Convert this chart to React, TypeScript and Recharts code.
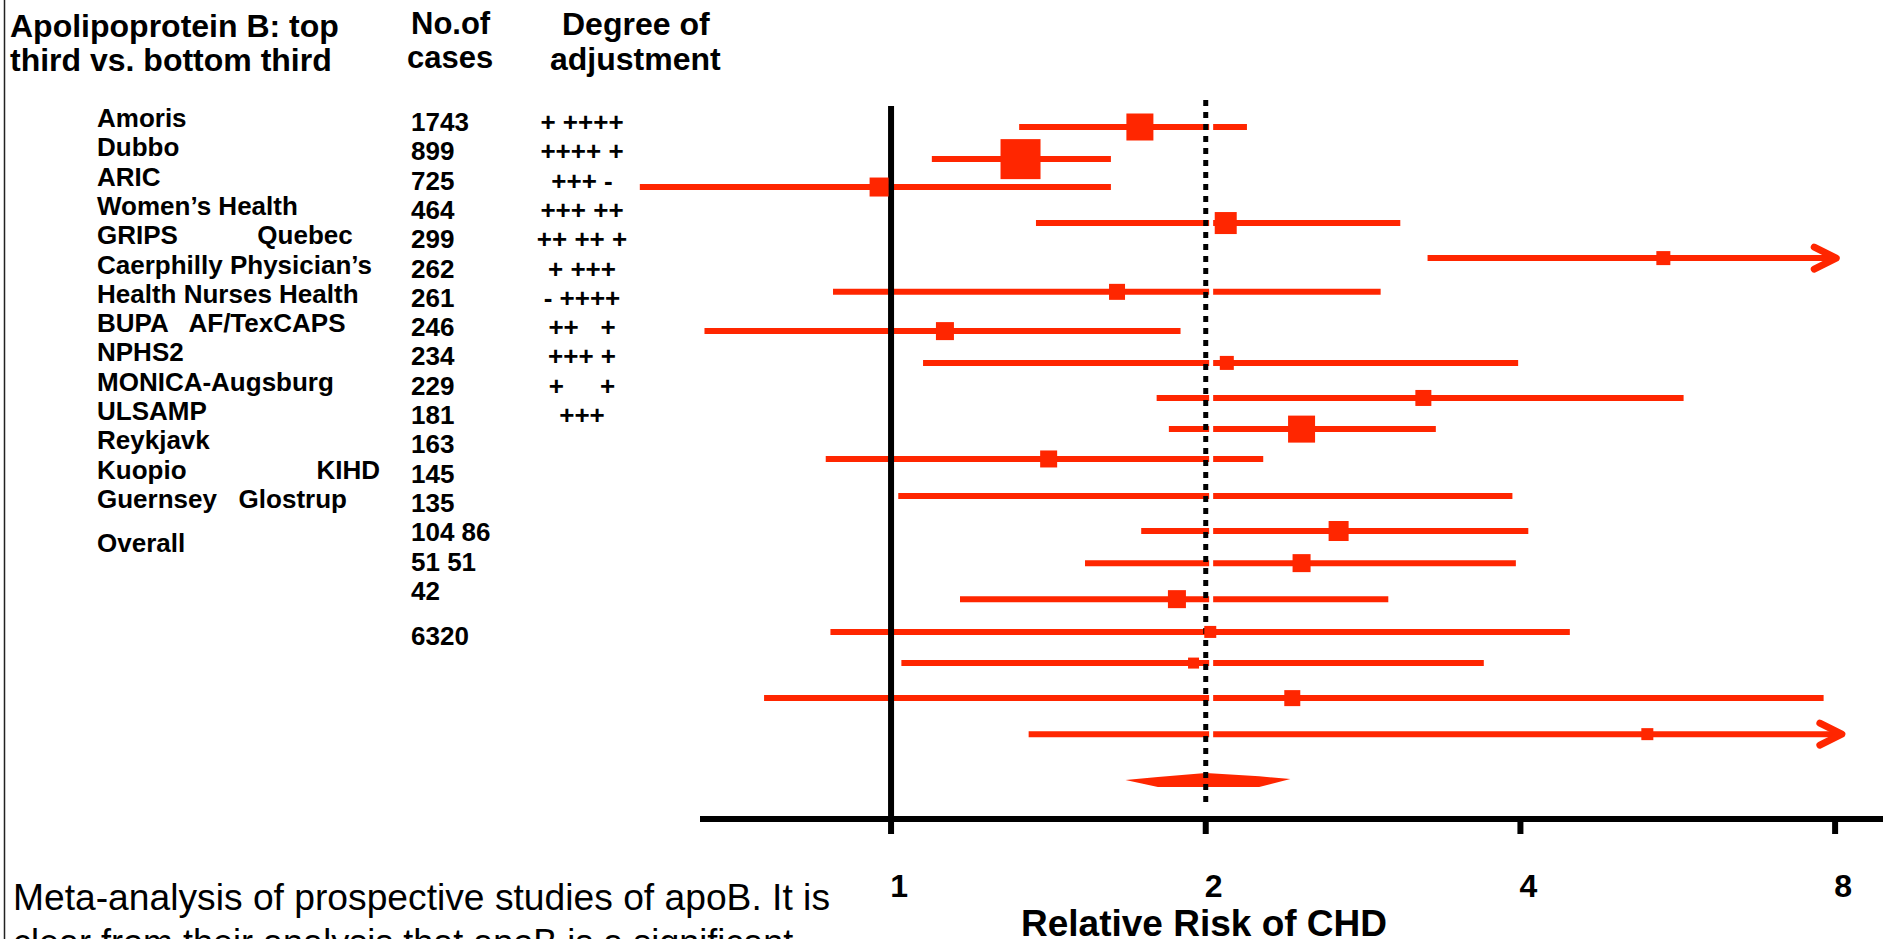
import React from 'react';
import { ComposedChart, XAxis, YAxis, Scatter, Area, ReferenceLine } from 'recharts';

const RED = '#ff2600';
const FONT = "'Liberation Sans', Arial, Helvetica, sans-serif";

// Left-hand table
const titleLines = ['Apolipoprotein B: top', 'third vs. bottom third'];
const casesHeader = ['No.of', 'cases'];
const adjustHeader = ['Degree of', 'adjustment'];
const studyNames = [
  'Amoris',
  'Dubbo',
  'ARIC',
  'Women\u2019s Health',
  'GRIPS           Quebec',
  'Caerphilly Physician\u2019s',
  'Health Nurses Health',
  'BUPA   AF/TexCAPS',
  'NPHS2',
  'MONICA-Augsburg',
  'ULSAMP',
  'Reykjavk',
  'Kuopio                  KIHD',
  'Guernsey   Glostrup',
];
const overallLabel = 'Overall';
const caseCounts = ['1743', '899', '725', '464', '299', '262', '261', '246', '234', '229', '181', '163', '145', '135', '104 86', '51 51', '42'];
const totalCases = '6320';
const adjustment = ['+ ++++', '++++ +', '+++ -', '+++ ++', '++ ++ +', '+ +++', '- ++++', '++   +', '+++ +', '+     +', '+++'];

// Forest plot rows (row position in row units, relative risks)
const rowPos = [1, 1.99, 2.85, 3.96, 5.04, 6.08, 7.29, 8.27, 9.35, 10.31, 11.23, 12.37, 13.45, 14.44, 15.55, 16.56, 17.52, 18.6, 19.71];
const estimate = [1.73, 1.33, 0.974, 2.09, 5.48, 1.645, 1.126, 2.095, 3.23, 2.47, 1.415, null, 2.68, 2.47, 1.877, 2.02, 1.947, 2.42, 5.29];
const lower = [1.326, 1.094, 0.575, 1.376, 3.26, 0.88, 0.663, 1.073, 1.795, 1.844, 0.866, 1.016, 1.735, 1.533, 1.164, 0.875, 1.023, 0.756, 1.354];
const upper = [2.19, 1.623, 1.623, 3.07, 8.02, 2.94, 1.892, 3.98, 5.73, 3.32, 2.27, 3.93, 4.07, 3.96, 2.99, 4.46, 3.69, 7.8, 8.12];
const weight = [27, 40, 19, 22, 14, 16, 18, 14, 16, 27, 17, 0, 20, 18, 18, 12, 11, 16, 12];
const openEnded = [false, false, false, false, true, false, false, false, false, false, false, false, false, false, false, false, false, false, true];

// Pooled estimate diamond
const diamondX = [1.676, 1.8, 2.0, 2.25, 2.41];
const diamondTop = [21.123, 21.031, 20.908, 21.009, 21.092];
const diamondBottom = [21.123, 21.339, 21.339, 21.339, 21.092];

const xTicks = [1, 2, 4, 8];
const xTitle = 'Relative Risk of CHD';
const footLines = ['Meta-analysis of prospective studies of apoB. It is', 'clear from their analysis that apoB is a significant'];

const X_DOMAIN = [0.6565, 8.89];
const Y_DOMAIN = [0.168, 22.325];

const diamondData = diamondX.map((x, i) => ({ x, range: [diamondTop[i], diamondBottom[i]] }));
const boxData = rowPos
  .map((y, i) => ({ x: estimate[i], y, size: weight[i] }))
  .filter((d) => d.x !== null && d.size > 0);
const arrowData = rowPos.map((y, i) => ({ x: upper[i], y })).filter((_, i) => openEnded[i]);

const Box = (props: any) => {
  const { cx, cy, payload } = props;
  const s = payload.size;
  return <rect x={cx - s / 2} y={cy - s / 2} width={s} height={s} fill={RED} />;
};

const ArrowHead = (props: any) => {
  const { cx, cy } = props;
  return (
    <polyline
      points={`${cx - 22},${cy - 11} ${cx},${cy} ${cx - 22},${cy + 11}`}
      fill="none"
      stroke={RED}
      strokeWidth={7}
      strokeLinecap="round"
      strokeLinejoin="round"
    />
  );
};

const Tick = (props: any) => {
  const { x, payload } = props;
  return (
    <text x={x + 8} y={897} textAnchor="middle" fontSize={32} fontWeight="bold" fontFamily={FONT} fill="#000">
      {payload.value}
    </text>
  );
};

const bold = { fontFamily: FONT, fontWeight: 'bold' as const, fill: '#000' };

export default function App() {
  return (
    <div style={{ position: 'absolute', left: 0, top: 0, width: 1887, height: 939, background: '#fff', overflow: 'hidden' }}>
      <ComposedChart width={1887} height={939} data={diamondData} margin={{ top: 100, right: 4, bottom: 0, left: 700 }}>
        <XAxis
          dataKey="x"
          type="number"
          scale="log"
          domain={X_DOMAIN}
          allowDataOverflow
          ticks={xTicks}
          interval={0}
          axisLine={{ stroke: '#000', strokeWidth: 6 }}
          tickLine={{ stroke: '#000', strokeWidth: 6 }}
          tickSize={15}
          height={120}
          tick={<Tick />}
        />
        <YAxis dataKey="y" type="number" domain={Y_DOMAIN} reversed allowDataOverflow hide width={0} />
        {rowPos.map((r, i) => (
          <ReferenceLine
            key={'ci' + i}
            segment={[{ x: lower[i], y: r }, { x: upper[i], y: r }]}
            stroke={RED}
            strokeWidth={6}
            ifOverflow="visible"
          />
        ))}
        <ReferenceLine
          segment={[{ x: 2.024, y: 0.5 }, { x: 2.024, y: 20.3 }]}
          stroke="#fff"
          strokeWidth={4}
          ifOverflow="visible"
        />
        <Area
          dataKey="range"
          type="linear"
          stroke="none"
          fill={RED}
          fillOpacity={1}
          dot={false}
          activeDot={false}
          isAnimationActive={false}
        />
        <Scatter data={boxData} dataKey="y" shape={<Box />} isAnimationActive={false} />
        <Scatter data={arrowData} dataKey="y" shape={<ArrowHead />} isAnimationActive={false} />
        <ReferenceLine
          segment={[{ x: 1, y: 0.353 }, { x: 1, y: Y_DOMAIN[1] }]}
          stroke="#000"
          strokeWidth={6}
          ifOverflow="visible"
        />
        <ReferenceLine
          segment={[{ x: 2, y: Y_DOMAIN[0] }, { x: 2, y: 21.955 }]}
          stroke="#000"
          strokeWidth={5}
          strokeDasharray="6 6"
          ifOverflow="visible"
        />
      </ComposedChart>
      <svg width={1887} height={939} style={{ position: 'absolute', left: 0, top: 0, pointerEvents: 'none' }}>
        <line x1={4.5} y1={0} x2={4.5} y2={939} stroke="#222" strokeWidth={1.5} />
        {titleLines.map((t, i) => (
          <text key={'t' + i} x={10} y={37 + i * 34} fontSize={32} {...bold}>{t}</text>
        ))}
        <text x={411} y={34} fontSize={31} {...bold}>{casesHeader[0]}</text>
        <text x={407} y={68} fontSize={31} {...bold}>{casesHeader[1]}</text>
        <text x={562} y={35} fontSize={32} {...bold}>{adjustHeader[0]}</text>
        <text x={550} y={70} fontSize={32} {...bold}>{adjustHeader[1]}</text>
        {studyNames.map((n, i) => (
          <text key={'n' + i} x={97} y={127 + i * 29.3} fontSize={26} xmlSpace="preserve" style={{ whiteSpace: 'pre' }} {...bold}>{n}</text>
        ))}
        <text x={97} y={552} fontSize={26} {...bold}>{overallLabel}</text>
        {caseCounts.map((c, i) => (
          <text key={'c' + i} x={411} y={131 + i * 29.3} fontSize={26} xmlSpace="preserve" style={{ whiteSpace: 'pre' }} {...bold}>{c}</text>
        ))}
        <text x={411} y={645} fontSize={26} {...bold}>{totalCases}</text>
        {adjustment.map((a, i) => (
          <text key={'a' + i} x={582} y={131 + i * 29.3} fontSize={26} textAnchor="middle" xmlSpace="preserve" style={{ whiteSpace: 'pre' }} {...bold}>{a}</text>
        ))}
        <text x={1204} y={936} fontSize={37} textAnchor="middle" {...bold}>{xTitle}</text>
        <text x={13} y={910} fontSize={36} fontFamily={FONT} fill="#000" textLength={817} lengthAdjust="spacingAndGlyphs">{footLines[0]}</text>
        <text x={13} y={955} fontSize={36} fontFamily={FONT} fill="#000">{footLines[1]}</text>
      </svg>
    </div>
  );
}
